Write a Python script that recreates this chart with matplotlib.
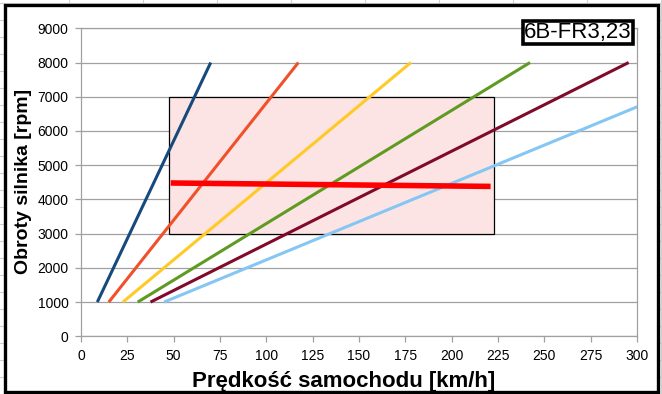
import matplotlib
matplotlib.use("Agg")
import matplotlib.pyplot as plt
from matplotlib.lines import Line2D
from matplotlib.patches import Rectangle

plt.rcParams["font.family"] = ["Liberation Sans", "DejaVu Sans"]

# gear lines: speed [km/h] at 1000 rpm and at 8000 rpm
rpm_points = [1000, 8000]
gear_speeds = [
    [8.8, 70.0],
    [15.0, 117.3],
    [22.6, 178.0],
    [30.6, 242.3],
    [37.5, 295.5],
    [44.8, 358.0],
]
gear_colors = ["#174a7c", "#f0502a", "#ffc926", "#5f9b22", "#7f0a2a", "#85c6f2"]

# working range box
box_speed = [47.5, 223.0]
box_rpm = [3000, 7000]

# average rpm line
avg_speed = [48.4, 221.0]
avg_rpm = [4480, 4380]

x_ticks = list(range(0, 301, 25))
y_ticks = list(range(0, 9001, 1000))
label_text = "6B-FR3,23"

fig = plt.figure(figsize=(6.62, 3.94), dpi=100)
W, H = 662, 394

# spreadsheet cells behind the chart
for x in range(-5, W, 74):
    fig.add_artist(Line2D([x / W, x / W], [0, 1], color="#d0d0d0", lw=0.8, zorder=0))
for y in range(3, H, 17):
    fig.add_artist(Line2D([0, 1], [1 - y / H, 1 - y / H], color="#d0d0d0", lw=0.8, zorder=0))

# chart frame
fig.add_artist(Rectangle((4.5 / W, 1 - 391.5 / H), 653 / W, 387 / H,
                         facecolor="white", edgecolor="black", lw=2.4, zorder=1))

ax = fig.add_axes([81 / W, 57.7 / H, 556 / W, 308 / H])
ax.set_zorder(2)

ax.add_patch(Rectangle((box_speed[0], box_rpm[0]), box_speed[1] - box_speed[0],
                       box_rpm[1] - box_rpm[0], facecolor="#fde4e4",
                       edgecolor="black", lw=0.9, zorder=2))

for speeds, color in zip(gear_speeds, gear_colors):
    ax.plot(speeds, rpm_points, color=color, lw=2.2, zorder=3, solid_capstyle="butt")

ax.plot(avg_speed, avg_rpm, color="#ff0000", lw=4.0, zorder=4, solid_capstyle="butt")

ax.set_xlim(0, 300)
ax.set_ylim(0, 9000)
ax.set_xticks(x_ticks)
ax.set_yticks(y_ticks)
ax.yaxis.grid(True, color="#a0a0a0", lw=0.9)
ax.set_axisbelow(True)
for sp in ax.spines.values():
    sp.set_color("#a0a0a0")
    sp.set_linewidth(0.9)
ax.tick_params(axis="both", color="#a0a0a0", length=4, width=0.9,
               labelsize=10, pad=5)

fig.text(344 / W, 1 - 381 / H, "Prędkość samochodu [km/h]", fontsize=16,
         fontweight="bold", ha="center", va="center")
fig.text(24 / W, 1 - 181 / H, "Obroty silnika [rpm]", fontsize=14,
         fontweight="bold", ha="center", va="center", rotation=90)

fig.text(578 / W, 1 - 32.5 / H, label_text, fontsize=16, ha="center", va="center",
         bbox=dict(boxstyle="square,pad=0.06", facecolor="white",
                   edgecolor="black", lw=2.6), zorder=5)

fig.savefig("out.png", dpi=100)
